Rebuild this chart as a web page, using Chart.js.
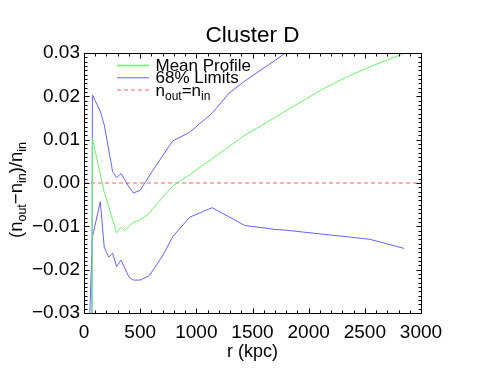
<!DOCTYPE html>
<html><head><meta charset="utf-8">
<script src="https://cdn.jsdelivr.net/npm/chart.js@4"></script>
<style>html,body{margin:0;padding:0;background:#fff}canvas{display:block}</style>
</head><body>
<canvas id="c" width="485" height="374"></canvas>
<script>
// ---- data ----
const radius      = [45, 75, 145, 180, 220, 255, 290, 330, 360, 400, 440, 500, 580, 700, 790, 940, 1140, 1290, 1430, 1700, 1800, 2120, 2340, 2545, 2850];
const meanProfile = [-0.3, 0.0103, 0.0020, -0.0021, -0.0055, -0.0085, -0.0115, -0.0102, -0.0110, -0.0100, -0.0091, -0.0085, -0.0070, -0.0033, -0.0007, 0.0019, 0.0056, 0.0084, 0.0110, 0.0151, 0.0167, 0.0216, 0.0245, 0.0268, 0.0299];
const upperLimit  = [-0.3, 0.0203, 0.0166, 0.0134, 0.0077, 0.0026, 0.0012, 0.0022, 0.0009, -0.0009, -0.0023, -0.0017, 0.0016, 0.0063, 0.0097, 0.0117, 0.0161, 0.0207, 0.0235, 0.0283, 0.0301, 0.0360, 0.0400, 0.0430, 0.0470];
const lowerLimit  = [-0.035, -0.0125, -0.0043, -0.0148, -0.0171, -0.0162, -0.0193, -0.0178, -0.0195, -0.0217, -0.0224, -0.0224, -0.0214, -0.0168, -0.0124, -0.0079, -0.0057, -0.0078, -0.0098, -0.0107, -0.0109, -0.0118, -0.0124, -0.0130, -0.0151];
const equalityR   = [0, 3000];
const equalityV   = [0, 0];
const xTickValues = [0, 500, 1000, 1500, 2000, 2500, 3000];
const xTickLabels = ['0', '500', '1000', '1500', '2000', '2500', '3000'];
const yTickValues = [-0.03, -0.02, -0.01, 0, 0.01, 0.02, 0.03];
const yTickLabels = ['\u22120.03', '\u22120.02', '\u22120.01', '0.00', '0.01', '0.02', '0.03'];
const titleText   = 'Cluster D';
const xTitle      = 'r (kpc)';
const yTitleSegs  = [['(n',0],['out',1],['\u2212n',0],['in',1],[')/n',0],['in',1]];
const legendItems = [
  {segs:[['Mean Profile',0]], ds:0},
  {segs:[['68% Limits',0]], ds:1},
  {segs:[['n',0],['out',1],['=n',0],['in',1]], ds:3}
];

const FONT = '"Liberation Sans", Arial, Helvetica, sans-serif';
const GREEN = 'rgb(110,240,110)', BLUE = 'rgb(100,100,255)', RED = 'rgb(255,150,150)';

const pts = (xs, ys) => xs.map((v, i) => ({x: v, y: ys[i]}));

function richWidth(ctx, segs, size, subSize){
  let w = 0;
  for (const [t, s] of segs){ ctx.font = (s ? subSize : size) + 'px ' + FONT; w += ctx.measureText(t).width; }
  return w;
}
function drawRich(ctx, segs, x, y, size, subSize, subDrop){
  ctx.textBaseline = 'alphabetic'; ctx.textAlign = 'left';
  for (const [t, s] of segs){
    ctx.font = (s ? subSize : size) + 'px ' + FONT;
    ctx.fillText(t, x, y + (s ? subDrop : 0));
    x += ctx.measureText(t).width;
  }
}

const decor = {
  id: 'decor',
  afterDatasetsDraw(chart){
    const {ctx, chartArea: a, scales: {x, y}} = chart;
    ctx.save();
    ctx.strokeStyle = '#000'; ctx.lineWidth = 1;
    const L = Math.round(a.left) + 0.5, R = Math.round(a.right) + 0.5, T = Math.round(a.top) + 0.5, B = Math.round(a.bottom) + 0.5;
    ctx.strokeRect(L, T, R - L, B - T);
    ctx.beginPath();
    for (let v = 0; v <= 3000; v += 100){
      const px = Math.round(x.getPixelForValue(v)) + 0.5;
      const len = (v % 500 === 0) ? 5 : 3;
      ctx.moveTo(px, B); ctx.lineTo(px, B - len);
      ctx.moveTo(px, T); ctx.lineTo(px, T + len);
    }
    for (let i = -30; i <= 30; i++){
      const py = Math.round(y.getPixelForValue(i / 1000)) + 0.5;
      const len = (i % 10 === 0) ? 5 : 3;
      ctx.moveTo(L, py); ctx.lineTo(L + len, py);
      ctx.moveTo(R, py); ctx.lineTo(R - len, py);
    }
    ctx.stroke();

    // legend
    const ds = chart.data.datasets;
    legendItems.forEach((it, k) => {
      const d = ds[it.ds];
      const ly = 65.5 + k * 12.3;
      ctx.beginPath();
      ctx.strokeStyle = d.borderColor;
      ctx.lineWidth = k === 0 ? 1.6 : (k === 2 ? 1.5 : 1);
      ctx.setLineDash(d.borderDash || []);
      ctx.moveTo(117, ly); ctx.lineTo(149, ly);
      ctx.stroke();
      ctx.setLineDash([]);
      ctx.fillStyle = '#000';
      drawRich(ctx, it.segs, 155.5, ly + 5.5, 17, 12, 4);
    });

    // axis titles
    ctx.fillStyle = '#000';
    ctx.font = '18px ' + FONT; ctx.textAlign = 'center'; ctx.textBaseline = 'middle';
    ctx.fillText(xTitle, (a.left + a.right) / 2, 352);
    ctx.save();
    ctx.translate(22, 190);
    ctx.rotate(-Math.PI / 2);
    const w = richWidth(ctx, yTitleSegs, 18.5, 12.5);
    drawRich(ctx, yTitleSegs, -w / 2, 0, 18.5, 12.5, 4);
    ctx.restore();
    ctx.restore();
  }
};

new Chart(document.getElementById('c'), {
  type: 'line',
  data: {
    datasets: [
      {label: 'Mean Profile', data: pts(radius, meanProfile), borderColor: GREEN, borderWidth: 1, pointRadius: 0, tension: 0},
      {label: '68% Limits', data: pts(radius, upperLimit), borderColor: BLUE, borderWidth: 1, pointRadius: 0, tension: 0},
      {label: '68% Limits (lower)', data: pts(radius, lowerLimit), borderColor: BLUE, borderWidth: 1, pointRadius: 0, tension: 0},
      {label: 'n_out=n_in', data: pts(equalityR, equalityV), borderColor: RED, borderWidth: 1.5, borderDash: [4, 3], pointRadius: 0, tension: 0}
    ]
  },
  options: {
    responsive: false, animation: false, devicePixelRatio: 1,
    layout: {padding: {left: 0, right: 64, top: 0, bottom: 0}},
    plugins: {
      legend: {display: false}, tooltip: {enabled: false},
      title: {display: true, text: titleText, fullSize: false, color: '#000',
              font: {family: FONT, size: 22.5, weight: 'normal', lineHeight: 1.2},
              padding: {top: 22.5, bottom: 3.5}}
    },
    scales: {
      x: {type: 'linear', min: 0, max: 3000,
          afterBuildTicks: s => { s.ticks = xTickValues.map(v => ({value: v})); },
          afterFit: s => { s.height = 61; },
          grid: {display: false, drawTicks: false}, border: {display: false},
          ticks: {autoSkip: false, maxRotation: 0, padding: 8, color: '#000',
                  font: {family: FONT, size: 19},
                  callback: (v) => { const i = xTickValues.indexOf(v); return i >= 0 ? xTickLabels[i] : ''; }}},
      y: {type: 'linear', min: -0.03, max: 0.03,
          afterBuildTicks: s => { s.ticks = yTickValues.map(v => ({value: v})); },
          afterFit: s => { s.width = 84; },
          grid: {display: false, drawTicks: false}, border: {display: false},
          ticks: {autoSkip: false, padding: 4, color: '#000',
                  font: {family: FONT, size: 19},
                  callback: (v, i) => yTickLabels[i]}}
    }
  },
  plugins: [decor]
});
</script>
</body></html>
